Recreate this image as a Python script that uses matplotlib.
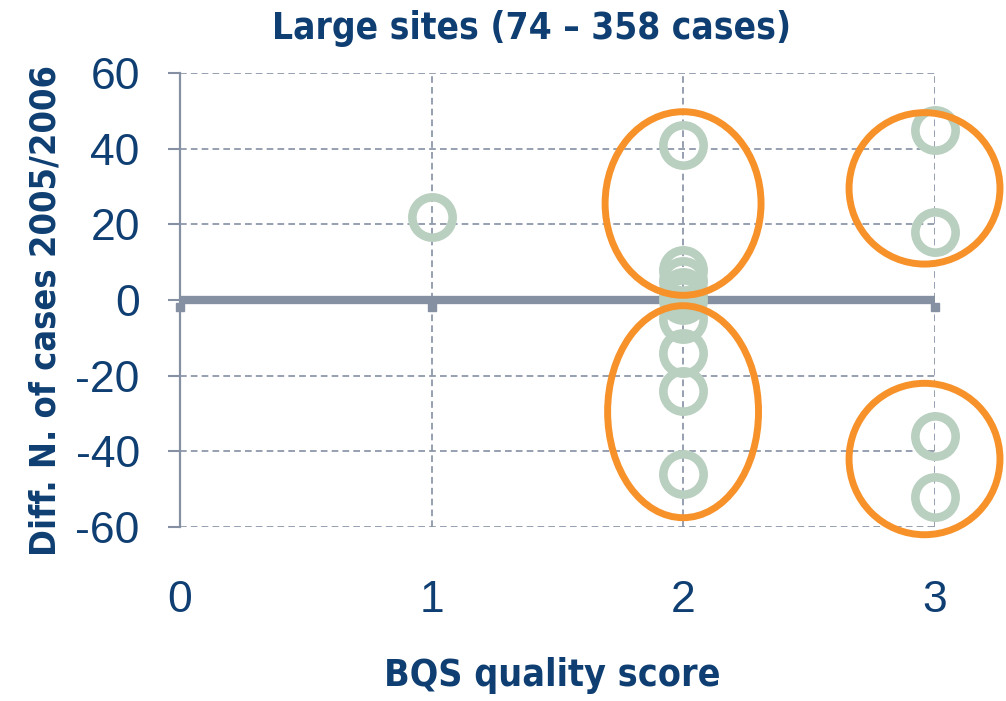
import matplotlib
matplotlib.use("Agg")
import matplotlib.pyplot as plt
import matplotlib.transforms as mtransforms
from matplotlib.patches import Ellipse

# BQS score vs change in case numbers, large sites
bqs_score = [1, 2, 2, 2, 2, 2, 2, 2, 2, 2, 3, 3, 3, 3]
diff_cases = [22, 41, 8, 5, 2, 0, -5, -14, -24, -46, 45, 18, -36, -52]

# highlighted groups: (x centre, y centre, width, height)
groups_x = [2.0, 2.0, 2.96, 2.96]
groups_y = [25.5, -29.5, 29.5, -42.0]
groups_w = [0.62, 0.60, 0.60, 0.60]
groups_h = [48.5, 56.0, 40.0, 40.0]

xticks = [0, 1, 2, 3]
yticks = [-60, -40, -20, 0, 20, 40, 60]

navy = "#0f3f72"
grey = "#8590a3"

plt.rcParams["font.family"] = ["Liberation Sans", "DejaVu Sans"]
plt.rcParams["axes.unicode_minus"] = False

fig = plt.figure(figsize=(10.06, 7.01), dpi=100)
ax = fig.add_axes([0.179, 0.248, 0.750, 0.648])

ax.set_xlim(0, 3)
ax.set_ylim(-60, 60)
ax.set_xticks(xticks)
ax.set_yticks(yticks)

# dashed grid (also acts as top/right/bottom border)
for x in xticks[1:]:
    ax.axvline(x, color=grey, lw=1.2, ls=(0, (4, 2.5)), zorder=1)
for y in yticks:
    if y != 0:
        ax.axhline(y, color=grey, lw=1.2, ls=(0, (4, 2.5)), zorder=1)

for s in ["top", "right", "bottom"]:
    ax.spines[s].set_visible(False)
ax.spines["left"].set_color(grey)
ax.spines["left"].set_linewidth(1.6)

# thick zero axis with square ticks hanging below
ax.axhline(0, color=grey, lw=6, zorder=2)
tick_tr = mtransforms.offset_copy(ax.transData, fig=fig, x=0, y=-5, units="points")
ax.plot(xticks, [0] * len(xticks), ls="none", marker="s", ms=6, color=grey,
        zorder=2, clip_on=False, transform=tick_tr)

ax.tick_params(axis="y", direction="out", length=9, width=1.5, color=grey,
               labelsize=32, labelcolor=navy, pad=20)
ax.tick_params(axis="x", length=0, labelsize=32, labelcolor=navy, pad=38)

ax.plot(bqs_score, diff_cases, ls="none", marker="o", ms=29, mew=6.2,
        mfc="none", mec="#b9cfbf", zorder=3, clip_on=False)

for cx, cy, w, h in zip(groups_x, groups_y, groups_w, groups_h):
    ax.add_patch(Ellipse((cx, cy), w, h, fill=False, ec="#f7922b", lw=5,
                         zorder=4, clip_on=False))

bold = dict(fontweight="bold", color=navy, family=["DejaVu Sans"],
            fontstretch="condensed", ha="center", va="center")
title = fig.text(0.528, 0.960, "Large sites (74 \u2013 358 cases)",
                 fontsize=30, **bold)
xlab = fig.text(0.549, 0.037, "BQS quality score", fontsize=30, **bold)
ylab = fig.text(0.045, 0.557, "Diff. N. of cases 2005/2006", rotation=90,
                fontsize=30, **bold)

# size the labels to the widths they take in the original
fig.canvas.draw()
for t, target, vertical in [(title, 518, False), (xlab, 335, False),
                            (ylab, 490, True)]:
    bb = t.get_window_extent()
    span = bb.height if vertical else bb.width
    t.set_fontsize(t.get_fontsize() * target / span)

fig.savefig("out.png", dpi=100)
